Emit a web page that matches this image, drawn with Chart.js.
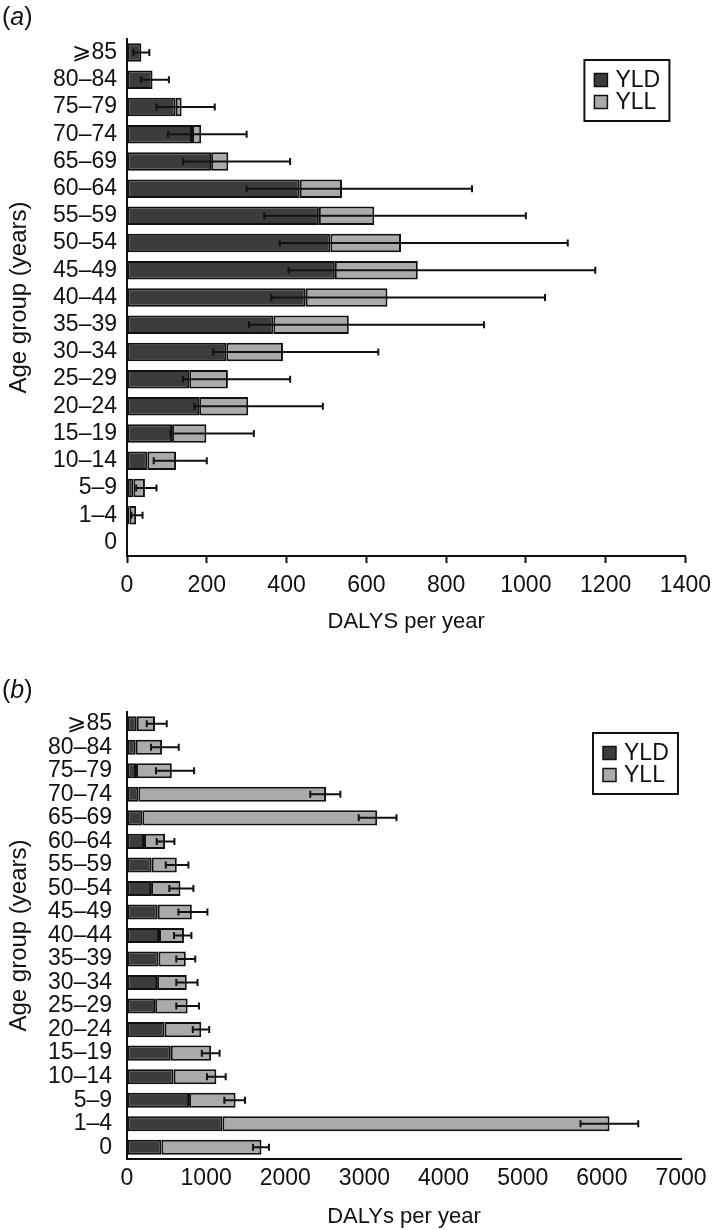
<!DOCTYPE html>
<html>
<head>
<meta charset="utf-8">
<script src="https://cdn.jsdelivr.net/npm/chart.js@4.4.0/dist/chart.umd.min.js"></script>
<style>
html, body { margin: 0; padding: 0; background: #fff; }
body { width: 720px; height: 1230px; position: relative; overflow: hidden; font-family: "Liberation Sans", Arial, sans-serif; }
.panel { position: absolute; left: 0; width: 720px; }
.tag { position: absolute; left: 2px; font-size: 25px; color: #111; line-height: 30px; }
</style>
</head>
<body>
<div class="panel" style="top:0;height:640px"><canvas id="chartA" width="720" height="640"></canvas></div>
<div class="panel" style="top:640px;height:590px"><canvas id="chartB" width="720" height="590"></canvas></div>
<div class="tag" style="top:1px">(<i>a</i>)</div>
<div class="tag" style="top:674px">(<i>b</i>)</div>
<script>
// age groups, top of the chart first
const ageGroups = ['⩾85', '80–84', '75–79', '70–74', '65–69', '60–64', '55–59', '50–54', '45–49',
    '40–44', '35–39', '30–34', '25–29', '20–24', '15–19', '10–14', '5–9', '1–4', '0']

// (a)
const yldA = [36, 64, 122, 163, 211, 433, 481, 510, 521, 448, 367, 249, 156, 181, 113, 51, 16, 6, null]
const yllA = [0, 0, 15, 23, 43, 106, 139, 177, 208, 205, 189, 142, 97, 123, 86, 72, 29, 17, null]
const errLowA = [16, 35, 74, 103, 141, 300, 344, 383, 405, 362, 306, 216, 140, 169, 109, 67, 23, 11, null]
const errHighA = [56, 105, 220, 300, 409, 865, 1000, 1105, 1174, 1048, 895, 630, 409, 491, 318, 200, 74, 39, null]
const xTicksA = [0, 200, 400, 600, 800, 1000, 1200, 1400]

// (b)
const yldB = [123, 110, 114, 143, 194, 215, 312, 304, 388, 404, 398, 380, 356, 475, 553, 589, 784, 1206, 434]
const yllB = [231, 333, 452, 2372, 2967, 266, 317, 371, 431, 315, 345, 375, 410, 463, 510, 540, 588, 4891, 1265]
const errLowB = [249, 304, 367, 2316, 2928, 376, 490, 535, 649, 594, 623, 623, 623, 831, 945, 1010, 1230, 5730, 1592]
const errHighB = [502, 654, 848, 2696, 3405, 599, 776, 839, 1016, 814, 862, 891, 909, 1039, 1170, 1247, 1491, 6460, 1794]
const xTicksB = [0, 1000, 2000, 3000, 4000, 5000, 6000, 7000]

const FONT = '"Liberation Sans", Arial, sans-serif'
const INK = '#111111'

const errorBars = {
    id: 'errorBars',
    afterDatasetsDraw(chart, args, opts) {
        const ctx = chart.ctx
        const x = chart.scales.x, y = chart.scales.y
        ctx.save()
        ctx.strokeStyle = INK
        ctx.lineWidth = 2
        for (let i = 0; i < opts.low.length; ++i) {
            if (opts.low[i] == null) continue
            let yy = y.getPixelForValue(i)
            let x0 = x.getPixelForValue(opts.low[i])
            let x1 = x.getPixelForValue(opts.high[i])
            ctx.beginPath()
            ctx.moveTo(x0, yy); ctx.lineTo(x1, yy)
            ctx.moveTo(x0, yy - 3.5); ctx.lineTo(x0, yy + 3.5)
            ctx.moveTo(x1, yy - 3.5); ctx.lineTo(x1, yy + 3.5)
            ctx.stroke()
        }
        ctx.restore()
    }
}

// boxed legend sitting inside the plot area, top right
const boxLegend = {
    id: 'boxLegend',
    afterDraw(chart, args, opts) {
        const ctx = chart.ctx
        const area = chart.chartArea
        const w = 85, h = 61
        const left = area.right - opts.inset - w
        const top = area.top + opts.offsetTop
        ctx.save()
        ctx.fillStyle = '#fff'
        ctx.fillRect(left, top, w, h)
        ctx.strokeStyle = INK
        ctx.lineWidth = 2
        ctx.strokeRect(left, top, w, h)
        ctx.font = '23px ' + FONT
        ctx.textBaseline = 'middle'
        chart.data.datasets.forEach((ds, i) => {
            let cy = top + 20 + i * 22
            ctx.fillStyle = ds.backgroundColor
            ctx.fillRect(left + 10, cy - 6.5, 13, 13)
            ctx.lineWidth = 1.5
            ctx.strokeRect(left + 10, cy - 6.5, 13, 13)
            ctx.fillStyle = INK
            ctx.fillText(ds.label, left + 31, cy + 1)
        })
        ctx.restore()
    }
}

function makeChart(id, yld, yll, low, high, ticks, o) {
    let ctx = document.getElementById(id).getContext('2d')
    return new Chart(ctx, {
        type: 'bar',
        plugins: [errorBars, boxLegend],
        data: {
            labels: ageGroups,
            datasets: [
                { label: 'YLD', data: yld, backgroundColor: '#3c3c3c' },
                { label: 'YLL', data: yll, backgroundColor: '#aaaaaa' }
            ]
        },
        options: {
            indexAxis: 'y',
            responsive: false,
            animation: false,
            layout: { padding: { left: 0, top: o.top, right: o.right, bottom: 0 } },
            datasets: {
                bar: {
                    borderColor: INK,
                    borderWidth: 2,
                    borderSkipped: false,
                    barPercentage: o.barPct,
                    categoryPercentage: 1
                }
            },
            scales: {
                x: {
                    stacked: true,
                    min: ticks[0],
                    max: ticks[ticks.length - 1],
                    afterFit: s => { s.height = o.xHeight },
                    ticks: { stepSize: ticks[1] - ticks[0], color: INK, padding: o.xPad, maxRotation: 0,
                        callback: v => String(v),
                        font: { family: FONT, size: 23 } },
                    grid: { drawOnChartArea: false, drawTicks: o.xTickMarks, tickLength: 7, tickWidth: 2, tickColor: INK },
                    border: { color: INK, width: 2 },
                    title: { display: true, text: o.xTitle, color: INK, padding: { top: 0, bottom: o.titlePad },
                        font: { family: FONT, size: 22 } }
                },
                y: {
                    stacked: true,
                    afterFit: s => { s.width = 127 },
                    ticks: { color: INK, padding: o.yPad, autoSkip: false, font: { family: FONT, size: 23 } },
                    grid: { drawOnChartArea: false, drawTicks: false },
                    border: { color: INK, width: 2 },
                    title: { display: true, text: 'Age group (years)', color: INK, padding: { top: 5, bottom: 0 },
                        font: { family: FONT, size: 24 } }
                }
            },
            plugins: {
                legend: { display: false },
                tooltip: { enabled: false },
                errorBars: { low: low, high: high },
                boxLegend: { inset: o.legendInset, offsetTop: 21 }
            }
        }
    })
}

makeChart('chartA', yldA, yllA, errLowA, errHighA, xTicksA, {
    top: 39, right: 26, xHeight: 84, barPct: 0.68, yPad: 10, xPad: 9, xTickMarks: true,
    xTitle: 'DALYS per year', titlePad: 5, legendInset: 16
})
makeChart('chartB', yldB, yllB, errLowB, errHighB, xTicksB, {
    top: 72, right: 39, xHeight: 71, barPct: 0.64, yPad: 15, xPad: 6, xTickMarks: false,
    xTitle: 'DALYs per year', titlePad: 0, legendInset: 3
})
</script>
</body>
</html>
